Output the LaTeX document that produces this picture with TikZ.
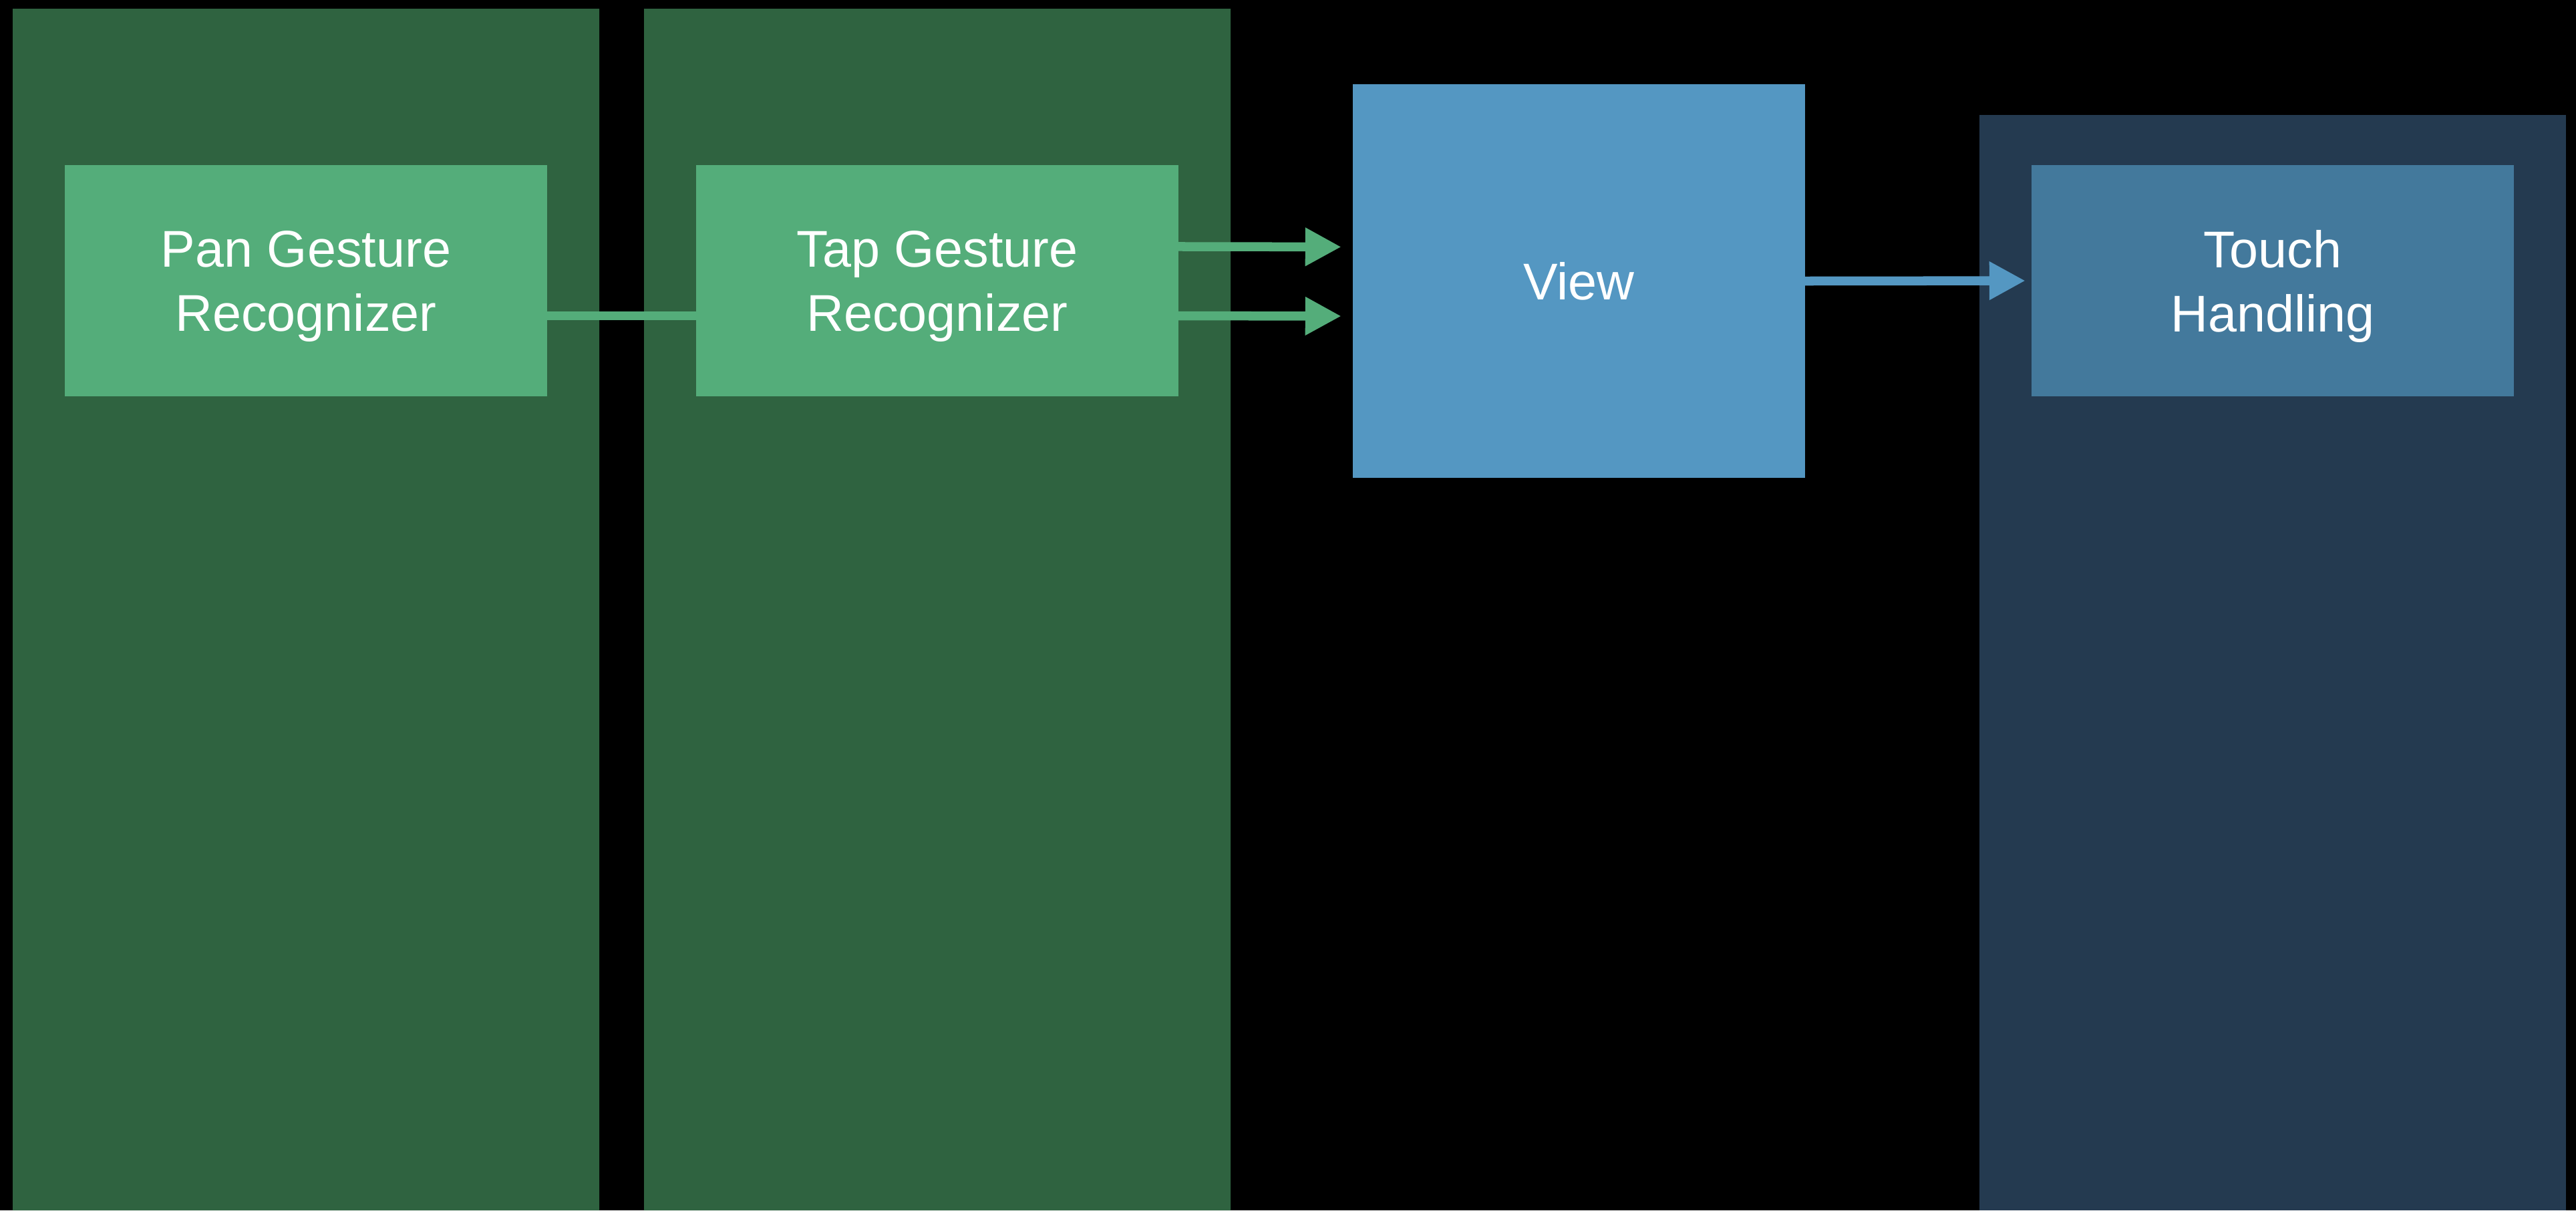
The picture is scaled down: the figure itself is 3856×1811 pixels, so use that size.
\documentclass[tikz,border=0pt]{standalone}
\usepackage{fontspec}
\setmainfont{Liberation Sans}
\usetikzlibrary{arrows.meta}
\definecolor{lanegreen}{HTML}{2F6340}
\definecolor{boxgreen}{HTML}{54AD7A}
\definecolor{viewblue}{HTML}{5497C2}
\definecolor{lanenavy}{HTML}{243A50}
\definecolor{touchblue}{HTML}{43799C}
\begin{document}
\begin{tikzpicture}[x=0.01cm,y=-0.01cm,font=\fontsize{22}{27.3}\selectfont,
	box/.style={minimum width=7.22cm,minimum height=3.46cm,inner sep=0pt,outer sep=0pt,text=white,align=center,text depth=0pt},
	flow/.style={line width=0.135cm,-{Triangle[length=0.54cm,width=0.54cm]}}]
		\fill [black] (0,0) rectangle (3856,1811);
		\fill [lanegreen] (19,13) rectangle (897,1811)
		(964,13) rectangle (1842,1811);
		\fill [lanenavy] (2963,172) rectangle (3841,1811);
		\node [box,fill=boxgreen] (pan) at (458,420) {Pan Gesture\\Recognizer};
		\node [box,fill=boxgreen] (tap) at (1403,420) {Tap Gesture\\Recognizer};
		\node [box,fill=viewblue,minimum width=6.77cm,minimum height=5.89cm] (view) at (2363.5,420.5) {View};
		\node [box,fill=touchblue] (touch) at (3402,420) {Touch\\Handling};
		\draw [boxgreen,line width=0.135cm] ([yshift=-0.525cm]pan.east)--([yshift=-0.525cm]tap.west);
		\draw [flow,boxgreen,shorten >=0.17cm] ([yshift=0.51cm]tap.east)--([yshift=0.51cm]view.west);
		\draw [flow,boxgreen,shorten >=0.17cm] ([yshift=-0.525cm]tap.east)--([yshift=-0.525cm]view.west);
		\draw [flow,viewblue,shorten >=0.09cm] (view.east)--(touch.west);
\end{tikzpicture}
\end{document}
